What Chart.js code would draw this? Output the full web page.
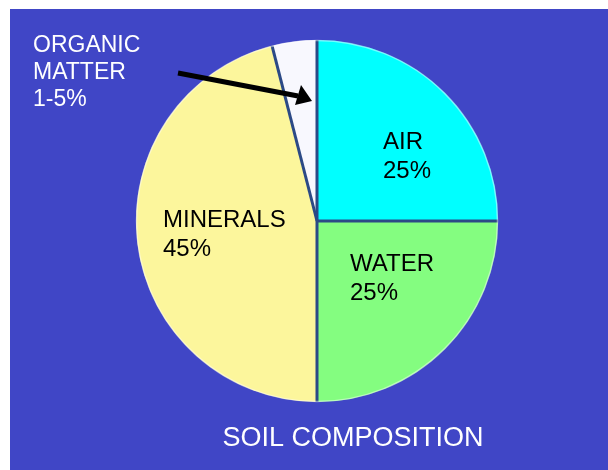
<!DOCTYPE html>
<html>
<head>
<meta charset="utf-8">
<script src="https://cdn.jsdelivr.net/npm/chart.js@4"></script>
<style>
  html, body { margin: 0; padding: 0; background: #fff; }
  #wrap { position: relative; width: 608px; height: 470px; }
  #panel { position: absolute; left: 10px; top: 9px; right: 0; bottom: 0; background: #4046c6; }
  #soil { position: absolute; left: 0; top: 0; }
</style>
</head>
<body>
<div id="wrap">
  <div id="panel"></div>
  <canvas id="soil" width="608" height="470"></canvas>
</div>
<script>
const categories = ["AIR", "WATER", "MINERALS", "ORGANIC MATTER"];
const values = [25, 25, 46, 4];
const shownPct = ["25%", "25%", "45%", "1-5%"];
const sliceColors = ["#00ffff", "#84fd80", "#fcf69c", "#f8f8fe"];

const FONT = "'Liberation Sans', Arial, sans-serif";

// slice labels, offsets from pie centre (px)
const labelPos = [
  { dx: 66, dy: -72, color: "#000" },   // AIR
  { dx: 33, dy: 50, color: "#000" },    // WATER
  { dx: -154, dy: 6, color: "#000" },   // MINERALS
];

const decorations = {
  id: "decorations",
  afterDatasetsDraw(chart) {
    const ctx = chart.ctx;
    const arcs = chart.getDatasetMeta(0).data;
    const cx = arcs[0].x, cy = arcs[0].y, r = arcs[0].outerRadius;

    // separators between slices
    ctx.save();
    ctx.strokeStyle = "#2c4a86";
    ctx.lineWidth = 3;
    ctx.lineCap = "butt";
    arcs.forEach((a) => {
      ctx.beginPath();
      ctx.moveTo(cx, cy);
      ctx.lineTo(cx + Math.cos(a.startAngle) * r, cy + Math.sin(a.startAngle) * r);
      ctx.stroke();
    });
    // soft rim
    ctx.strokeStyle = "rgba(255,255,255,0.45)";
    ctx.lineWidth = 1.5;
    ctx.beginPath();
    ctx.arc(cx, cy, r - 0.5, 0, Math.PI * 2);
    ctx.stroke();
    ctx.restore();

    // text inside slices
    ctx.save();
    ctx.font = "24px " + FONT;
    ctx.textAlign = "left";
    ctx.textBaseline = "alphabetic";
    labelPos.forEach((p, i) => {
      ctx.fillStyle = p.color;
      ctx.fillText(categories[i], cx + p.dx, cy + p.dy);
      ctx.fillText(shownPct[i], cx + p.dx, cy + p.dy + 29);
    });

    // organic matter callout
    ctx.font = "23px " + FONT;
    ctx.fillStyle = "#ffffff";
    const org = categories[3].split(" ");
    ctx.fillText(org[0], 33, 52);
    ctx.fillText(org[1], 33, 79);
    ctx.fillText(shownPct[3], 33, 106);

    // arrow
    ctx.strokeStyle = "#000";
    ctx.fillStyle = "#000";
    ctx.lineWidth = 5;
    ctx.beginPath();
    ctx.moveTo(178, 73);
    ctx.lineTo(298, 96);
    ctx.stroke();
    ctx.beginPath();
    ctx.moveTo(312, 101);
    ctx.lineTo(295, 105);
    ctx.lineTo(301, 85);
    ctx.closePath();
    ctx.fill();

    // title
    ctx.font = "27px " + FONT;
    ctx.textAlign = "center";
    ctx.fillStyle = "#ffffff";
    ctx.fillText("SOIL COMPOSITION", 353, 446);
    ctx.restore();
  },
};

new Chart(document.getElementById("soil"), {
  type: "pie",
  data: {
    labels: categories,
    datasets: [
      {
        data: values,
        backgroundColor: sliceColors,
        borderWidth: 0,
      },
    ],
  },
  options: {
    responsive: false,
    animation: false,
    layout: {
      padding: { left: 136, right: 110, top: 40, bottom: 68 },
    },
    plugins: {
      legend: { display: false },
      tooltip: { enabled: false },
    },
  },
  plugins: [decorations],
});
</script>
</body>
</html>
